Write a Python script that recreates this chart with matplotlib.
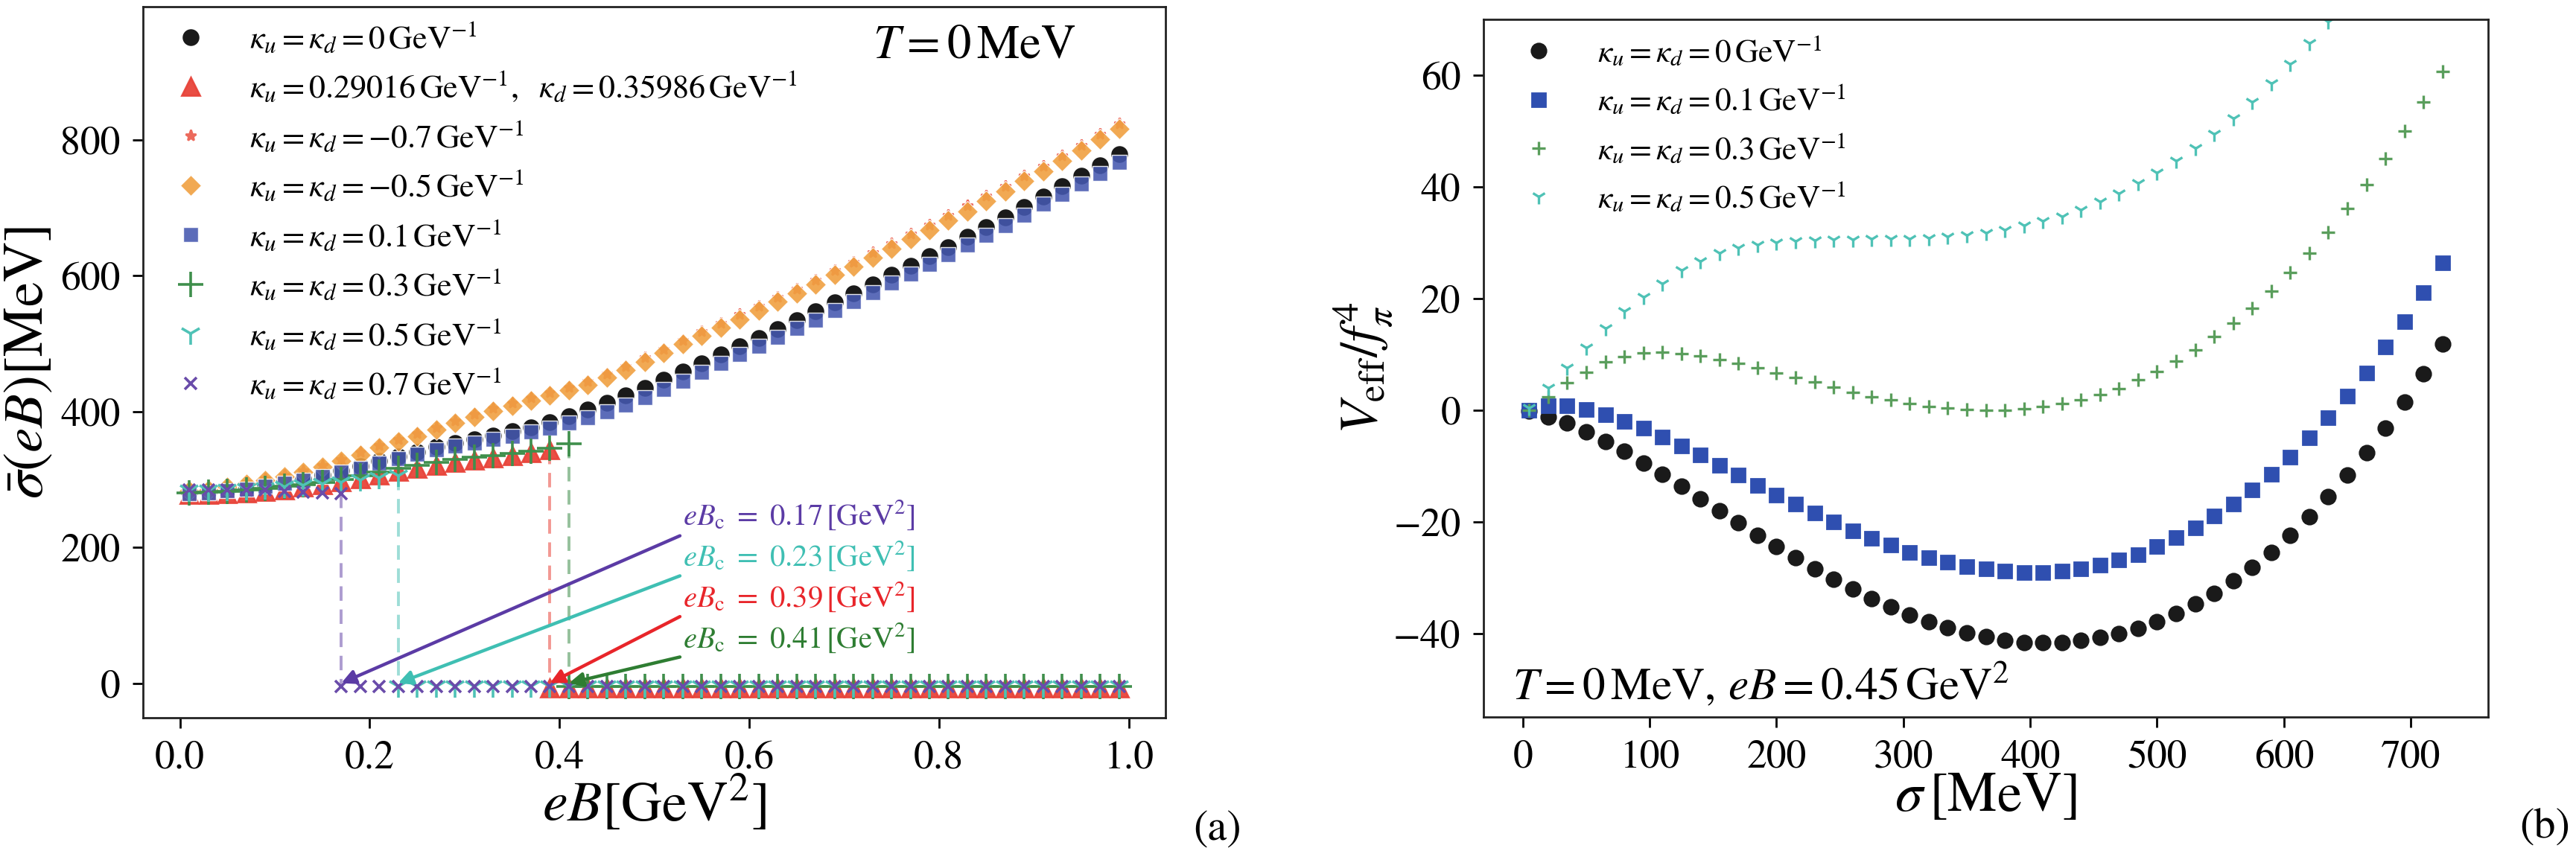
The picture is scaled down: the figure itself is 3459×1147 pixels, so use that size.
import numpy as np
import matplotlib
matplotlib.use("Agg")
import matplotlib.pyplot as plt

plt.rcParams['font.family'] = ['STIXGeneral', 'DejaVu Serif']
plt.rcParams['mathtext.fontset'] = 'stix'

# ---------------- Panel (a) data ----------------
eB = np.round(np.arange(0.01, 1.0, 0.02), 2)  # 50 points 0.01 .. 0.99

sig_k0 = [281, 282, 285, 288, 292, 296.5, 301, 307, 313.5, 320, 327, 333.5, 340.4, 347.7,
          353.3, 358.7, 364.2, 370.8, 377, 384.3, 393.4, 402.6, 412.5, 423.5, 434.8, 446.5,
          458.6, 471, 483.9, 496.6, 508.7, 521.6, 534.4, 547.2, 560.7, 573.5, 587, 601, 614.5,
          628.4, 642.3, 657, 671.6, 686.3, 701.6, 717, 732, 747.7, 763, 778.5]
sig_k01 = [279.6, 280.3, 283.2, 286, 290.3, 294, 298.5, 304.3, 310.5, 316.7, 324, 330.6, 337.2,
           343.4, 349, 354, 359, 364, 370, 376, 383, 391, 400, 410, 421, 433, 445, 458, 471,
           484.5, 496.5, 509.5, 522, 535, 548.5, 561.5, 575, 589, 602.5, 616.5, 630.5, 645,
           659.5, 674, 689.5, 705, 720, 735.5, 751, 766.5]
sig_km05 = [283, 285, 289, 293.5, 298.5, 304.5, 310.5, 318, 327, 336.5, 347, 356, 364, 373, 383,
            392, 400.5, 408.5, 416, 423.5, 431, 439.5, 450, 461, 473.5, 486, 499, 512, 523.5,
            536, 548.6, 561.4, 574, 587, 601, 613, 626.6, 640, 653.7, 666.8, 681, 695, 709.7,
            724, 739, 753.6, 769, 784.6, 801, 815.8]
sig_km07 = [285, 287, 291, 296, 301, 307, 313.5, 321, 330, 340, 350.5, 359.5, 368, 377, 387,
            396.5, 405, 413, 421, 428.5, 436, 445, 456, 467, 479.5, 492, 505, 518, 530, 543,
            555.5, 568.5, 581, 594, 608, 620.5, 634, 647.5, 661.5, 674.5, 689, 703, 717.5, 732,
            747, 761.5, 777, 792.5, 809, 823.5]

# branches with a jump (upper branch up to eB_c, lower branch from eB_c)
eBc_asym, eBc_k03, eBc_k05, eBc_k07 = 0.39, 0.41, 0.23, 0.17
sig_asym_up = [277.8, 277.8, 278.9, 280.3, 282.5, 285, 288.7, 292.4, 297, 301.5, 306.5, 311.5,
               316.5, 321, 325, 328.5, 332, 335.5, 339.5, 344]
sig_k03_up = [280, 281, 282.5, 284.5, 287, 289.5, 292.5, 296, 300, 305, 311, 316, 321, 325, 329,
              332.5, 335.5, 338.5, 342, 346, 352]
sig_k05_up = [283, 283.5, 284, 285.5, 287, 289, 291, 293.5, 296, 299, 302, 305]
sig_k07_up = [285, 285, 285, 285, 284, 282.5, 281.5, 280.5, 279.5]
low_level = -5.0
low_level_asym = -7.0

# ---------------- Panel (b) data ----------------
sigma = np.arange(5, 726, 15)  # 49 points
V_k0 = [-0.2, -1.2, -2.3, -3.9, -5.7, -7.4, -9.5, -11.5, -13.7, -15.9, -18.0, -20.2, -22.4, -24.5,
        -26.5, -28.5, -30.3, -32.1, -33.8, -35.3, -36.7, -37.9, -39.0, -39.9, -40.6, -41.2, -41.6,
        -41.7, -41.6, -41.3, -40.7, -40.0, -39.1, -37.9, -36.5, -34.7, -32.9, -30.6, -28.2, -25.5,
        -22.4, -19.1, -15.5, -11.7, -7.6, -3.2, 1.5, 6.5, 11.9]
V_k01 = [0.0, 0.8, 0.8, 0.1, -0.9, -2.0, -3.3, -4.8, -6.4, -8.1, -9.9, -11.7, -13.5, -15.2, -16.9,
         -18.5, -20.1, -21.6, -23.0, -24.2, -25.5, -26.4, -27.3, -28.0, -28.5, -28.9, -29.1, -29.1,
         -28.9, -28.5, -27.8, -26.9, -25.9, -24.5, -22.9, -21.1, -19.0, -16.9, -14.3, -11.5, -8.4,
         -5.0, -1.4, 2.5, 6.7, 11.3, 15.9, 21.0, 26.4]
V_k03 = [0.0, 2.4, 4.9, 6.8, 8.6, 9.6, 10.2, 10.4, 10.1, 9.7, 9.1, 8.4, 7.6, 6.7, 5.9, 5.0, 4.1, 3.2,
         2.4, 1.8, 1.2, 0.7, 0.3, 0.1, 0.0, 0.0, 0.2, 0.6, 1.2, 1.9, 2.8, 3.9, 5.4, 6.9, 8.8, 10.8,
         13.2, 15.6, 18.3, 21.3, 24.7, 28.1, 31.9, 36.1, 40.4, 45.1, 50.0, 55.2, 60.7]
V_k05 = [0.3, 4.0, 7.6, 11.2, 14.6, 17.7, 20.3, 22.7, 25.0, 26.7, 28.1, 29.0, 29.6, 30.0, 30.2, 30.4,
         30.5, 30.5, 30.6, 30.6, 30.7, 30.8, 31.0, 31.3, 31.7, 32.3, 33.0, 33.8, 34.7, 35.9, 37.3,
         38.8, 40.6, 42.5, 44.6, 46.9, 49.5, 52.2, 55.2, 58.5, 62.0, 65.7, 69.6]

# ---------------- colours ----------------
C_BLACK = '#1a1a1a'
C_RED = '#e8443a'
C_STAR = '#ec6a5c'
C_ORANGE = '#f0a040'
C_BLUE = '#4558b0'
C_GREEN = '#3f8f4c'
C_CYAN = '#4fc2b6'
C_PURPLE = '#6a4caa'

W, H, DPI = 3459, 1147, 200
fig = plt.figure(figsize=(W / DPI, H / DPI), dpi=DPI)
axA = fig.add_axes([0.0555, 0.1595, 0.397, 0.8326])
axB = fig.add_axes([0.5759, 0.1604, 0.390, 0.8169])

lab = {
    'k0': r'$\kappa_u=\kappa_d=0\,\mathrm{GeV}^{-1}$',
    'asym': r'$\kappa_u=0.29016\,\mathrm{GeV}^{-1},\ \ \kappa_d=0.35986\,\mathrm{GeV}^{-1}$',
    'km07': r'$\kappa_u=\kappa_d=-0.7\,\mathrm{GeV}^{-1}$',
    'km05': r'$\kappa_u=\kappa_d=-0.5\,\mathrm{GeV}^{-1}$',
    'k01': r'$\kappa_u=\kappa_d=0.1\,\mathrm{GeV}^{-1}$',
    'k03': r'$\kappa_u=\kappa_d=0.3\,\mathrm{GeV}^{-1}$',
    'k05': r'$\kappa_u=\kappa_d=0.5\,\mathrm{GeV}^{-1}$',
    'k07': r'$\kappa_u=\kappa_d=0.7\,\mathrm{GeV}^{-1}$',
}

def split(eBc, up, level):
    n = len(up)
    x_up = eB[:n]
    x_low = eB[eB >= eBc - 1e-9]
    y_low = [level] * len(x_low)
    return x_up, x_low, y_low

ax = axA
ax.plot(eB, sig_k0, ls='none', marker='o', ms=7.1, color=C_BLACK, label=lab['k0'], zorder=3)
xu, xl, yl = split(eBc_asym, sig_asym_up, low_level_asym)
ax.plot(xu, sig_asym_up, ls='none', marker='^', ms=8.8, color=C_RED, alpha=0.95,
        label=lab['asym'], zorder=3)
ax.plot(xl, yl, ls='none', marker='^', ms=8.8, color=C_RED, alpha=0.95, zorder=3)
ax.plot(eB, sig_km07, ls='none', marker='*', ms=5.5, color=C_STAR, label=lab['km07'], zorder=3)
ax.plot(eB, sig_km05, ls='none', marker='D', ms=6.9, color=C_ORANGE, alpha=0.9,
        mec='white', mew=0.4, label=lab['km05'], zorder=3)
ax.plot(eB, sig_k01, ls='none', marker='s', ms=7.2, color=C_BLUE, alpha=0.88,
        mec='white', mew=0.5, label=lab['k01'], zorder=3)
xu, xl, yl = split(eBc_k03, sig_k03_up, low_level)
ax.plot(xu, sig_k03_up, ls='none', marker='+', ms=12.5, mew=1.3, color=C_GREEN,
        label=lab['k03'], zorder=4)
ax.plot(xl, yl, ls='none', marker='+', ms=12.5, mew=1.3, color=C_GREEN, zorder=4)
ax.plot([eBc_k03, eBc_k03], [sig_k03_up[-1], low_level], ls=(0, (5, 3)), lw=1.4,
        color=C_GREEN, alpha=0.55, zorder=2)
xu, xl, yl = split(eBc_k05, sig_k05_up, low_level)
ax.plot(xu, sig_k05_up, ls='none', marker='1', ms=10.5, mew=1.3, color=C_CYAN,
        label=lab['k05'], zorder=4)
ax.plot(xl, yl, ls='none', marker='1', ms=10.5, mew=1.3, color=C_CYAN, zorder=4)
ax.plot([eBc_k05, eBc_k05], [sig_k05_up[-1], low_level], ls=(0, (5, 3)), lw=1.4,
        color=C_CYAN, alpha=0.55, zorder=2)
xu, xl, yl = split(eBc_k07, sig_k07_up, low_level)
ax.plot(xu, sig_k07_up, ls='none', marker='x', ms=5.5, mew=1.3, color=C_PURPLE,
        label=lab['k07'], zorder=5)
ax.plot(xl, yl, ls='none', marker='x', ms=5.5, mew=1.3, color=C_PURPLE, zorder=5)
ax.plot([eBc_k07, eBc_k07], [sig_k07_up[-1], low_level], ls=(0, (5, 3)), lw=1.4,
        color=C_PURPLE, alpha=0.55, zorder=2)
ax.plot([eBc_asym, eBc_asym], [sig_asym_up[-1], low_level], ls=(0, (5, 3)), lw=1.4,
        color=C_RED, alpha=0.55, zorder=2)

ax.set_ylim(-51, 996)
ax.set_xticks([0.0, 0.2, 0.4, 0.6, 0.8, 1.0])
ax.set_yticks([0, 200, 400, 600, 800])
ax.set_xlabel(r'$eB[\mathrm{GeV}^2]$', fontsize=26)
ax.set_ylabel(r'$\bar{\sigma}(eB)[\mathrm{MeV}]$', fontsize=26)
tA = ax.text(0.714, 0.944, r'$T=0\,\mathrm{MeV}$', transform=ax.transAxes, fontsize=22,
             va='center', ha='left')

# critical field annotations
ann = [
    (eBc_k07, '#5b3ba5', 217, 247),
    (eBc_k05, '#3fbfb3', 158, 187),
    (eBc_asym, '#e8252a', 98, 127),
    (eBc_k03, '#2e7d32', 38.5, 67),
]
ann_texts = []
for xc, col, ytail, ytext in ann:
    ax.annotate('', xy=(xc, 0), xytext=(0.527, ytail),
                arrowprops=dict(arrowstyle='-|>', color=col, lw=1.6, mutation_scale=14,
                                shrinkA=0, shrinkB=0), zorder=6)
    ann_texts.append(ax.text(0.53, ytext, r'$eB_\mathrm{c}\ =\ %.2f\,[\mathrm{GeV}^2]$' % xc,
                             color=col, fontsize=17, va='center', ha='left'))

# ---------------- Panel (b) ----------------
ax = axB
ax.plot(sigma, V_k0, ls='none', marker='o', ms=7.0, color=C_BLACK, label=lab['k0'])
ax.plot(sigma, V_k01, ls='none', marker='s', ms=6.8, color='#2f4fb0', label=lab['k01'])
ax.plot(sigma, V_k03, ls='none', marker='+', ms=6.5, mew=1.2, color='#5a9e5c', label=lab['k03'])
ax.plot(sigma[:len(V_k05)], V_k05, ls='none', marker='1', ms=7.2, mew=1.2, color=C_CYAN,
        label=lab['k05'])
ax.set_xlim(-31, 761)
ax.set_ylim(-55, 70)
ax.set_xticks([0, 100, 200, 300, 400, 500, 600, 700])
ax.set_yticks([-40, -20, 0, 20, 40, 60])
ax.set_xlabel(r'$\sigma\,[\mathrm{MeV}]$', fontsize=26)
ax.set_ylabel(r'$V_{\rm eff}/f_\pi^4$', fontsize=26)
tB = ax.text(0.029, 0.046, r'$T=0\,\mathrm{MeV},\,eB=0.45\,\mathrm{GeV}^2$', transform=ax.transAxes,
             fontsize=22, va='center', ha='left')

for ax in (axA, axB):
    for s in ax.spines.values():
        s.set_linewidth(1.0)
        s.set_color('#222222')
    ax.tick_params(axis='both', which='major', labelsize=19.3, length=5, width=1.0,
                   direction='out', top=False, right=False, pad=6)

for ax, (xy_x, xy_y), (yl_x, yl_y) in ((axA, (0.5, -0.120), (-0.111, 0.5)),
                                       (axB, (0.5, -0.116), (-0.120, 0.5))):
    ax.xaxis.set_label_coords(xy_x, xy_y)
    ax.xaxis.label.set_va('center')
    ax.yaxis.set_label_coords(yl_x, yl_y)
    ax.yaxis.label.set_va('center')

fig.text(1635 / W, 1 - 1115 / H, '(a)', fontsize=21, ha='center', va='center')
fig.text(3417 / W, 1 - 1112 / H, '(b)', fontsize=21, ha='center', va='center')

# ---------- fit text sizes to the reference's pixel sizes ----------
fig.canvas.draw()
R = fig.canvas.get_renderer()

def fit(t, target, use_height=False):
    bb = t.get_window_extent(R)
    cur = bb.height if use_height else bb.width
    if cur > 0:
        t.set_fontsize(t.get_fontsize() * target / cur)

fit(axA.xaxis.label, 301)
fit(axA.yaxis.label, 366, use_height=True)
fit(axB.xaxis.label, 245)
fit(axB.yaxis.label, 177, use_height=True)
fit(tA, 273)
fit(tB, 667)
fit(ann_texts[0], 311)
for t in ann_texts[1:]:
    t.set_fontsize(ann_texts[0].get_fontsize())

# ---------- legends placed to match reference rows ----------
def make_legend(ax, fs, ls, htp, anchor):
    return ax.legend(loc='upper left', frameon=False, fontsize=fs, handlelength=1.6,
                     handletextpad=htp, labelspacing=ls, borderaxespad=0.0, borderpad=0.0,
                     bbox_to_anchor=anchor)

def place_legend(ax, fs, ls, ref_row, ref_width, ref_first_y, ref_last_y, ref_text_x,
                 ref_handle_x, nrows):
    axbb = ax.get_window_extent(R)
    htp = 1.2
    anchor = (0.02, 0.98)
    leg = make_legend(ax, fs, ls, htp, anchor)
    fig.canvas.draw()
    w = leg.get_texts()[ref_row].get_window_extent(R).width
    fs = fs * ref_width / w
    fs_px = fs * DPI / 72.0
    htp = ((ref_text_x - ref_handle_x) - 0.8 * fs_px) / fs_px
    leg.remove()
    for _ in range(3):
        leg = make_legend(ax, fs, ls, htp, anchor)
        fig.canvas.draw()
        texts = leg.get_texts()
        c0 = texts[0].get_window_extent(R)
        cN = texts[-1].get_window_extent(R)
        y0 = (c0.y0 + c0.y1) / 2
        yN = (cN.y0 + cN.y1) / 2
        pitch = (y0 - yN) / (nrows - 1)
        target_pitch = (ref_last_y - ref_first_y) / (nrows - 1)
        ls = ls + (target_pitch - pitch) / fs_px
        dy = (H - ref_first_y) - y0
        dx = ref_text_x - c0.x0
        anchor = (anchor[0] + dx / axbb.width, anchor[1] + dy / axbb.height)
        leg.remove()
    return make_legend(ax, fs, ls, htp, anchor)

place_legend(axA, 17, 0.6, 1, 737, 51, 516, 335, 256, 8)
place_legend(axB, 17, 0.5, 1, 334, 69.5, 265.5, 2145, 2066, 4)

fig.savefig('out.png', dpi=DPI)
